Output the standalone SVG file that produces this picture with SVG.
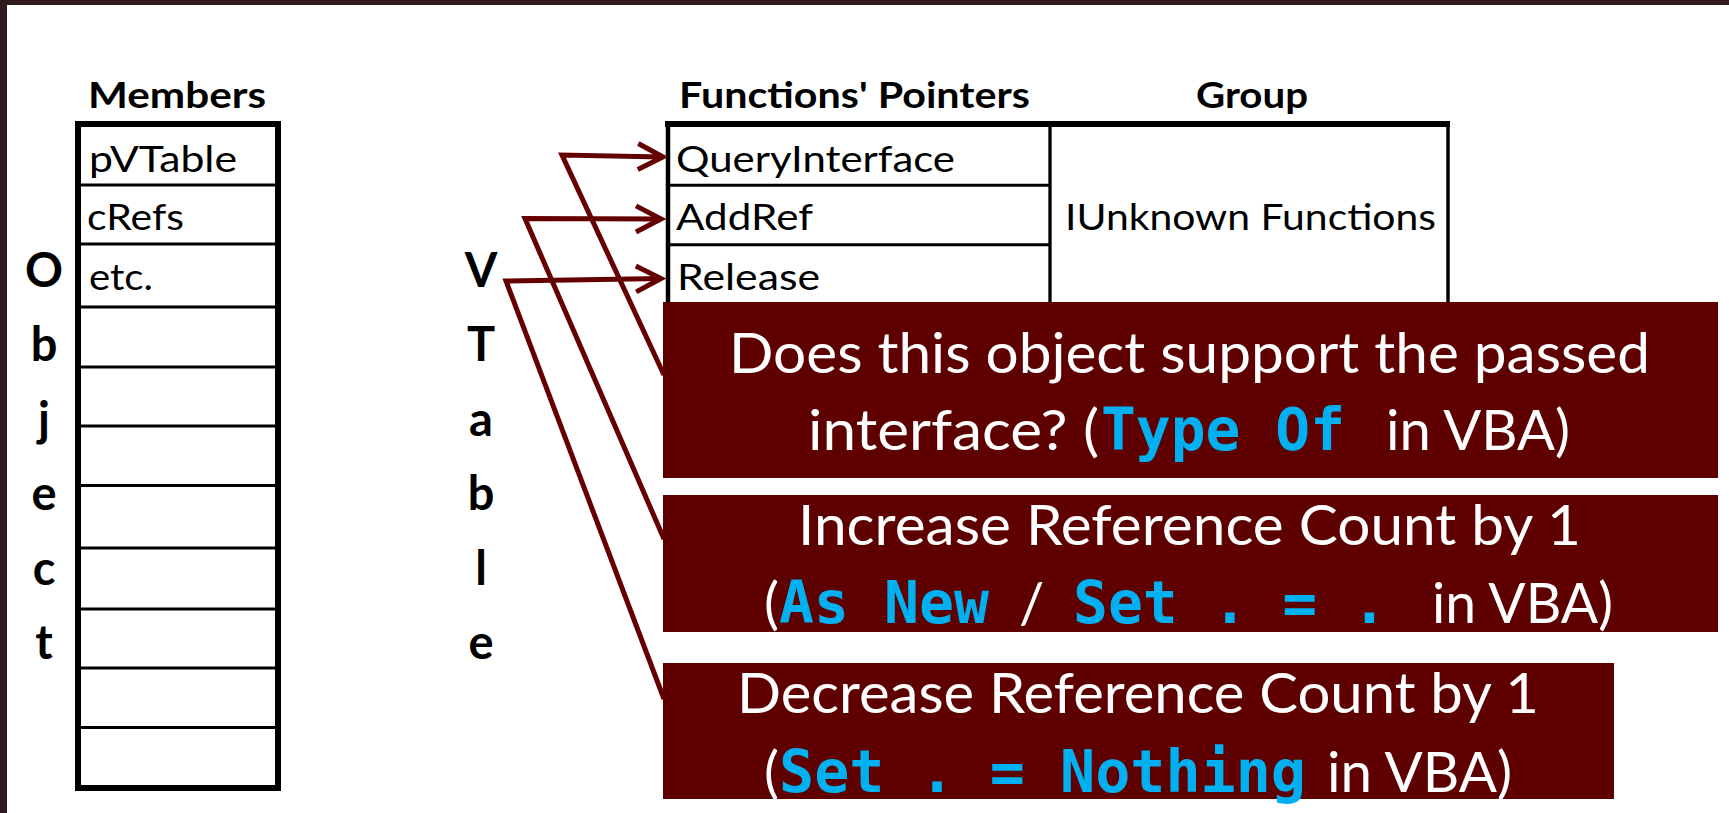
<svg xmlns="http://www.w3.org/2000/svg" width="1729" height="813" viewBox="0 0 1729 813">
<style>
  .frame{fill:#2e1a1d}
  .tb{fill:none;stroke:#000;stroke-width:6}
  .tl{stroke:#000;stroke-width:3}
  .hd{font-family:Lato,"Liberation Sans",sans-serif;font-weight:bold;font-size:37px;fill:#000}
  .cell{font-family:Lato,"Liberation Sans",sans-serif;font-size:36px;fill:#000}
  .big{font-family:Lato,"Liberation Sans",sans-serif;font-weight:bold;font-size:47px;fill:#000;text-anchor:middle}
  .box{fill:#5e0000}
  .bt{font-family:Lato,"Liberation Sans",sans-serif;font-size:56px;fill:#fff}
  .code{font-family:"DejaVu Sans Mono","Liberation Mono",monospace;font-weight:bold;font-size:58px;fill:#00b0f0}
  .con{fill:none;stroke:#640000;stroke-width:5;stroke-linejoin:miter}
</style>
<defs>
  <marker id="arr" markerUnits="userSpaceOnUse" markerWidth="34" markerHeight="34" refX="27" refY="16" orient="auto">
    <path d="M2,3 L27,16 L2,29" fill="none" stroke="#640000" stroke-width="5"/>
  </marker>
</defs>
<rect width="1729" height="813" fill="#fff"/>
<g id="frame">
  <rect class="frame" x="0" y="0" width="1729" height="5"/>
  <rect class="frame" x="0" y="0" width="7" height="813"/>
</g>

<g id="object-label">
  <text class="big" x="44" y="287">O</text>
  <text class="big" x="44" y="361">b</text>
  <text class="big" x="44" y="435.5">j</text>
  <text class="big" x="44" y="510">e</text>
  <text class="big" x="44" y="584.5">c</text>
  <text class="big" x="44" y="659">t</text>
</g>

<g id="members-table">
  <text class="hd" x="88" y="108" textLength="178" lengthAdjust="spacingAndGlyphs">Members</text>
  <rect class="tb" x="78" y="124" width="200" height="664"/>
  <line class="tl" x1="78" y1="185" x2="278" y2="185"/>
  <line class="tl" x1="78" y1="244" x2="278" y2="244"/>
  <line class="tl" x1="78" y1="307" x2="278" y2="307"/>
  <line class="tl" x1="78" y1="367" x2="278" y2="367"/>
  <line class="tl" x1="78" y1="426" x2="278" y2="426"/>
  <line class="tl" x1="78" y1="485.5" x2="278" y2="485.5"/>
  <line class="tl" x1="78" y1="548" x2="278" y2="548"/>
  <line class="tl" x1="78" y1="609" x2="278" y2="609"/>
  <line class="tl" x1="78" y1="668" x2="278" y2="668"/>
  <line class="tl" x1="78" y1="727.5" x2="278" y2="727.5"/>
  <text class="cell" x="89" y="172" textLength="148" lengthAdjust="spacingAndGlyphs">pVTable</text>
  <text class="cell" x="87" y="230" textLength="97" lengthAdjust="spacingAndGlyphs">cRefs</text>
  <text class="cell" x="89" y="290" textLength="64" lengthAdjust="spacingAndGlyphs">etc.</text>
</g>

<g id="vtable-label">
  <text class="big" x="481" y="287">V</text>
  <text class="big" x="481" y="361">T</text>
  <text class="big" x="481" y="435.5">a</text>
  <text class="big" x="481" y="510">b</text>
  <text class="big" x="481" y="584.5">l</text>
  <text class="big" x="481" y="659">e</text>
</g>

<g id="functions-table">
  <text class="hd" x="679" y="108" textLength="351" lengthAdjust="spacingAndGlyphs">Functions' Pointers</text>
  <text class="hd" x="1196" y="108" textLength="112" lengthAdjust="spacingAndGlyphs">Group</text>
  <line stroke="#000" stroke-width="6" x1="665" y1="124" x2="1450" y2="124"/>
  <line stroke="#000" stroke-width="4.5" x1="668" y1="122" x2="668" y2="320"/>
  <line stroke="#000" stroke-width="3.3" x1="1050" y1="124" x2="1050" y2="320"/>
  <line stroke="#000" stroke-width="3.5" x1="1448" y1="122" x2="1448" y2="320"/>
  <line class="tl" x1="668" y1="185.3" x2="1050" y2="185.3"/>
  <line class="tl" x1="668" y1="244.7" x2="1050" y2="244.7"/>
  <text class="cell" x="676" y="172" textLength="279" lengthAdjust="spacingAndGlyphs">QueryInterface</text>
  <text class="cell" x="676" y="230" textLength="137" lengthAdjust="spacingAndGlyphs">AddRef</text>
  <text class="cell" x="677" y="290" textLength="143" lengthAdjust="spacingAndGlyphs">Release</text>
  <text class="cell" x="1065" y="230" textLength="371" lengthAdjust="spacingAndGlyphs">IUnknown Functions</text>
</g>

<g id="connectors">
  <polyline class="con" points="664,375 562,155 663,157" marker-end="url(#arr)"/>
  <polyline class="con" points="664,539 525,218.5 661,219" marker-end="url(#arr)"/>
  <polyline class="con" points="664,699 506,281 661,278.5" marker-end="url(#arr)"/>
</g>

<g id="box-queryinterface">
  <rect class="box" x="663" y="302" width="1055" height="176"/>
  <text class="bt" x="729" y="373" textLength="921" lengthAdjust="spacingAndGlyphs">Does this object support the passed</text>
  <text class="bt" x="808" y="450" textLength="291" lengthAdjust="spacingAndGlyphs">interface? (</text>
  <text class="code" x="1101" y="450" textLength="244" lengthAdjust="spacingAndGlyphs">Type Of</text>
  <text class="bt" x="1386" y="450" textLength="184" lengthAdjust="spacingAndGlyphs">in VBA)</text>
</g>

<g id="box-addref">
  <rect class="box" x="663" y="495" width="1055" height="137"/>
  <text class="bt" x="798" y="545" textLength="783" lengthAdjust="spacingAndGlyphs">Increase Reference Count by 1</text>
  <text class="bt" x="764" y="623">(</text>
  <text class="code" x="779" y="623" textLength="210" lengthAdjust="spacingAndGlyphs">As New</text>
  <text class="bt" x="1019" y="623">/</text>
  <text class="code" x="1073" y="623" textLength="314" lengthAdjust="spacingAndGlyphs">Set . = .</text>
  <text class="bt" x="1432" y="623" textLength="181" lengthAdjust="spacingAndGlyphs">in VBA)</text>
</g>

<g id="box-release">
  <rect class="box" x="663" y="663" width="951" height="136"/>
  <text class="bt" x="737" y="713" textLength="802" lengthAdjust="spacingAndGlyphs">Decrease Reference Count by 1</text>
  <text class="bt" x="764" y="792">(</text>
  <text class="code" x="779" y="792" textLength="527" lengthAdjust="spacingAndGlyphs">Set . = Nothing</text>
  <text class="bt" x="1327" y="792" textLength="185" lengthAdjust="spacingAndGlyphs">in VBA)</text>
</g>
</svg>
